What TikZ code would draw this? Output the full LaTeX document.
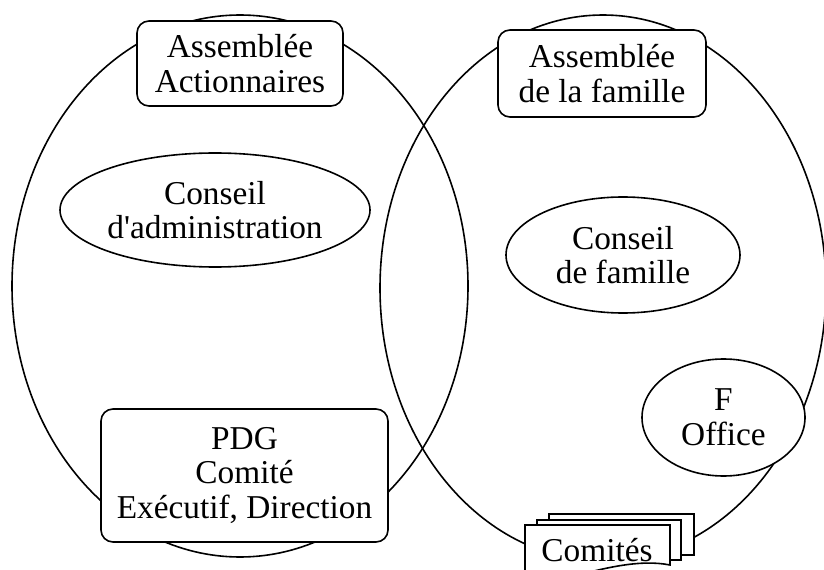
\documentclass[tikz,border=0pt]{standalone}
\usepackage{fontspec}
\setmainfont{Liberation Serif}
\usetikzlibrary{shapes.geometric}
\begin{document}
\begin{tikzpicture}[x=0.75pt, y=-0.75pt, line width=1.2pt,
  labelfont/.style={font=\fontsize{25}{26}\selectfont},
  sphere/.style={draw, ellipse, inner sep=0pt},
  panel/.style={draw, fill=white, rounded corners=9pt, align=center, inner sep=0pt, labelfont},
  oval/.style={draw, fill=white, ellipse, align=center, inner sep=0pt, labelfont},
  sheet/.style={draw, fill=white, line width=1.2pt}]
\useasboundingbox (0,0) rectangle (824,570);
\clip (0,0) rectangle (824,570);

% the two overlapping spheres: company and family
\node[sphere, minimum width=342pt, minimum height=406.5pt] (company) at (240,286) {};
\node[sphere, minimum width=334.5pt, minimum height=409.5pt] (family) at (603,288) {};

% company side
\node[panel, minimum width=154.5pt, minimum height=63.75pt] (shareholders) at (240,63.5) {Assemblée\\Actionnaires};
\node[oval, minimum width=232.5pt, minimum height=85.5pt] (board) at (215,210) {Conseil\\d\textquotesingle administration};
\node[panel, minimum width=215.25pt, minimum height=99.75pt] (ceo) at (244.5,475.5) {PDG\\Comité\\Exécutif, Direction};

% family side
\node[panel, minimum width=156pt, minimum height=65.25pt] (assembly) at (602,73.5) {Assemblée\\de la famille};
\node[oval, minimum width=175.5pt, minimum height=87pt] (council) at (623,255) {Conseil\\de famille};
\node[oval, minimum width=122.25pt, minimum height=87.75pt] (office) at (723.5,417.5) {F\\Office};

% stacked committee sheets
\draw[sheet] (549,514) rectangle (694,555);
\draw[sheet] (537,520) rectangle (681,560);
\draw[sheet] (525,584) -- (525,525) -- (670,525) -- (670,565)
  .. controls (640,559) and (605,568) .. (570,577)
  .. controls (550,582) and (535,584) .. cycle;
\node[labelfont, inner sep=0pt] (committees) at (597,550) {Comités};
\end{tikzpicture}
\end{document}
